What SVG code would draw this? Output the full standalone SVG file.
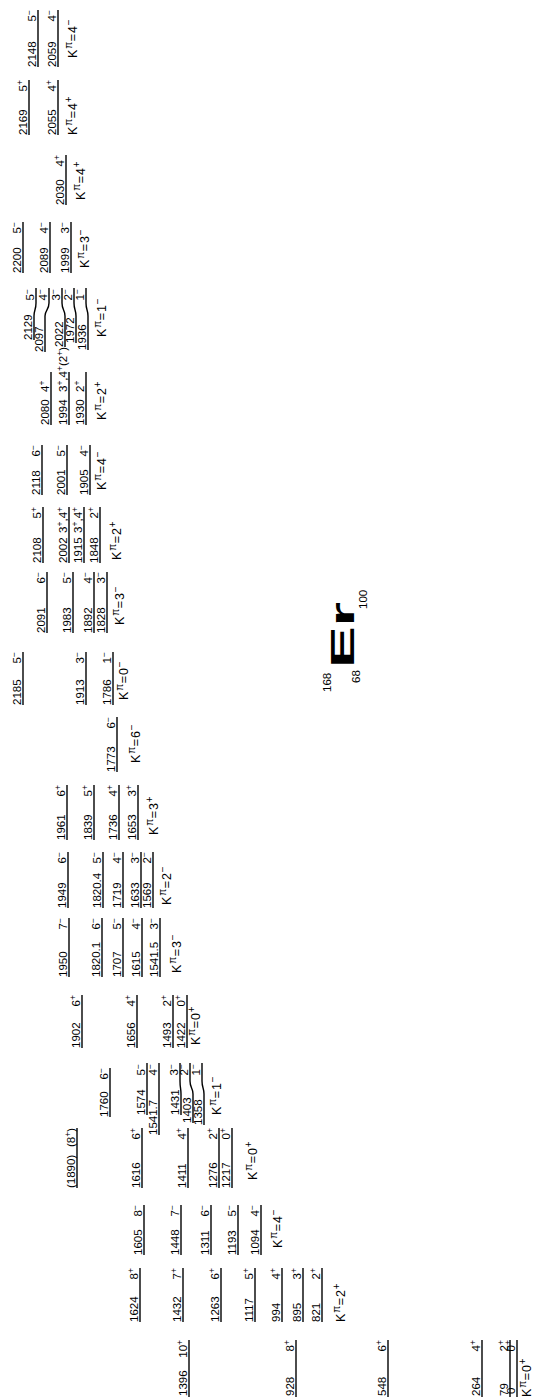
<svg xmlns="http://www.w3.org/2000/svg" width="534" height="1397" viewBox="0 0 534 1397">
<style>
text{font-family:"Liberation Sans",Arial,sans-serif;font-size:11.5px;fill:#000}
.r{text-anchor:end}
.u{font-size:8.5px}
.k{font-size:12.5px;letter-spacing:0.8px}
.k .u{font-size:10px}
.t{font-size:33px;font-weight:bold}
line,path{stroke:#000;stroke-width:1.4;fill:none}
</style>
<rect width="534" height="1397" fill="#fff"/>
<g transform="translate(0 1397) rotate(-90)">
<g id="connectors"></g>
<g id="b2059m">
<line x1="1330" y1="38" x2="1387" y2="38"/><text x="1330" y="35.5">2148</text><text class="r" x="1387" y="35.5">5<tspan class="u" dy="-4">−</tspan></text>
<line x1="1330" y1="58" x2="1387" y2="58"/><text x="1330" y="55.5">2059</text><text class="r" x="1387" y="55.5">4<tspan class="u" dy="-4">−</tspan></text>
<text class="k" x="1339" y="77">K<tspan class="u" dy="-5">π</tspan><tspan dy="5">=4</tspan><tspan class="u" dy="-5">−</tspan></text>
</g>
<g id="b2055p">
<line x1="1262" y1="29" x2="1317" y2="29"/><text x="1262" y="26.5">2169</text><text class="r" x="1317" y="26.5">5<tspan class="u" dy="-4">+</tspan></text>
<line x1="1262" y1="58" x2="1317" y2="58"/><text x="1262" y="55.5">2055</text><text class="r" x="1317" y="55.5">4<tspan class="u" dy="-4">+</tspan></text>
<text class="k" x="1262" y="77">K<tspan class="u" dy="-5">π</tspan><tspan dy="5">=4</tspan><tspan class="u" dy="-5">+</tspan></text>
</g>
<g id="b2030p">
<line x1="1192" y1="66" x2="1242" y2="66"/><text x="1192" y="63.5">2030</text><text class="r" x="1242" y="63.5">4<tspan class="u" dy="-4">+</tspan></text>
<text class="k" x="1197" y="85">K<tspan class="u" dy="-5">π</tspan><tspan dy="5">=4</tspan><tspan class="u" dy="-5">+</tspan></text>
</g>
<g id="b1999m">
<line x1="1124" y1="23" x2="1175" y2="23"/><text x="1124" y="20.5">2200</text><text class="r" x="1175" y="20.5">5<tspan class="u" dy="-4">−</tspan></text>
<line x1="1124" y1="50" x2="1175" y2="50"/><text x="1124" y="47.5">2089</text><text class="r" x="1175" y="47.5">4<tspan class="u" dy="-4">−</tspan></text>
<line x1="1124" y1="71" x2="1175" y2="71"/><text x="1124" y="68.5">1999</text><text class="r" x="1175" y="68.5">3<tspan class="u" dy="-4">−</tspan></text>
<text class="k" x="1129" y="89">K<tspan class="u" dy="-5">π</tspan><tspan dy="5">=3</tspan><tspan class="u" dy="-5">−</tspan></text>
</g>
<g id="b1936m">
<path d="M1057 34H1081C1087 34 1087 36 1094 36H1109"/><text x="1057" y="31.5">2129</text><text class="r" x="1108" y="33.5">5<tspan class="u" dy="-4">−</tspan></text>
<path d="M1045 45H1081C1087 45 1087 49 1094 49H1109"/><text x="1045" y="42.5">2097</text><text class="r" x="1108" y="46.5">4<tspan class="u" dy="-4">−</tspan></text>
<path d="M1050 65H1081C1087 65 1087 62 1094 62H1109"/><text x="1050" y="62.5">2022</text><text class="r" x="1108" y="59.5">3<tspan class="u" dy="-4">−</tspan></text>
<path d="M1054 76H1081C1087 76 1087 74 1094 74H1109"/><text x="1054" y="73.5">1972</text><text class="r" x="1108" y="71.5">2<tspan class="u" dy="-4">−</tspan></text>
<path d="M1047 88H1081C1087 88 1087 86 1094 86H1109"/><text x="1047" y="85.5">1936</text><text class="r" x="1108" y="83.5">1<tspan class="u" dy="-4">−</tspan></text>
<text class="k" x="1060" y="106">K<tspan class="u" dy="-5">π</tspan><tspan dy="5">=1</tspan><tspan class="u" dy="-5">−</tspan></text>
</g>
<g id="b1930p">
<line x1="972" y1="51" x2="1025" y2="51"/><text x="972" y="48.5">2080</text><text x="1005" y="48.5">4<tspan class="u" dy="-4">+</tspan></text>
<line x1="972" y1="69" x2="1025" y2="69"/><text x="972" y="66.5">1994</text><text x="1005" y="66.5">3<tspan class="u" dy="-4">+</tspan><tspan dy="4">,4</tspan><tspan class="u" dy="-4">+</tspan><tspan dy="4">(2</tspan><tspan class="u" dy="-4">+</tspan><tspan dy="4">)</tspan></text>
<line x1="972" y1="86" x2="1025" y2="86"/><text x="972" y="83.5">1930</text><text x="1005" y="83.5">2<tspan class="u" dy="-4">+</tspan></text>
<text class="k" x="977" y="106">K<tspan class="u" dy="-5">π</tspan><tspan dy="5">=2</tspan><tspan class="u" dy="-5">+</tspan></text>
</g>
<g id="b1905m">
<line x1="902" y1="42" x2="952" y2="42"/><text x="902" y="39.5">2118</text><text class="r" x="952" y="39.5">6<tspan class="u" dy="-4">−</tspan></text>
<line x1="902" y1="67" x2="952" y2="67"/><text x="902" y="64.5">2001</text><text class="r" x="952" y="64.5">5<tspan class="u" dy="-4">−</tspan></text>
<line x1="902" y1="90" x2="952" y2="90"/><text x="902" y="87.5">1905</text><text class="r" x="952" y="87.5">4<tspan class="u" dy="-4">−</tspan></text>
<text class="k" x="907" y="106">K<tspan class="u" dy="-5">π</tspan><tspan dy="5">=4</tspan><tspan class="u" dy="-5">−</tspan></text>
</g>
<g id="b1848p">
<line x1="834" y1="43" x2="890" y2="43"/><text x="834" y="40.5">2108</text><text class="r" x="890" y="40.5">5<tspan class="u" dy="-4">+</tspan></text>
<line x1="834" y1="69" x2="890" y2="69"/><text x="834" y="66.5">2002</text><text class="r" x="890" y="66.5">3<tspan class="u" dy="-4">+</tspan><tspan dy="4">,4</tspan><tspan class="u" dy="-4">+</tspan></text>
<line x1="834" y1="84" x2="890" y2="84"/><text x="834" y="81.5">1915</text><text class="r" x="890" y="81.5">3<tspan class="u" dy="-4">+</tspan><tspan dy="4">,4</tspan><tspan class="u" dy="-4">+</tspan></text>
<line x1="834" y1="100" x2="890" y2="100"/><text x="834" y="97.5">1848</text><text class="r" x="890" y="97.5">2<tspan class="u" dy="-4">+</tspan></text>
<text class="k" x="837" y="121">K<tspan class="u" dy="-5">π</tspan><tspan dy="5">=2</tspan><tspan class="u" dy="-5">+</tspan></text>
</g>
<g id="b1828m">
<line x1="764" y1="47" x2="825" y2="47"/><text x="764" y="44.5">2091</text><text class="r" x="825" y="44.5">6<tspan class="u" dy="-4">−</tspan></text>
<line x1="764" y1="73" x2="825" y2="73"/><text x="764" y="70.5">1983</text><text class="r" x="825" y="70.5">5<tspan class="u" dy="-4">−</tspan></text>
<line x1="764" y1="94" x2="825" y2="94"/><text x="764" y="91.5">1892</text><text class="r" x="825" y="91.5">4<tspan class="u" dy="-4">−</tspan></text>
<line x1="764" y1="107" x2="825" y2="107"/><text x="764" y="104.5">1828</text><text class="r" x="825" y="104.5">3<tspan class="u" dy="-4">−</tspan></text>
<text class="k" x="772" y="124">K<tspan class="u" dy="-5">π</tspan><tspan dy="5">=3</tspan><tspan class="u" dy="-5">−</tspan></text>
</g>
<g id="b1786m">
<line x1="692" y1="23" x2="745" y2="23"/><text x="692" y="20.5">2185</text><text class="r" x="745" y="20.5">5<tspan class="u" dy="-4">−</tspan></text>
<line x1="692" y1="86" x2="745" y2="86"/><text x="692" y="83.5">1913</text><text class="r" x="745" y="83.5">3<tspan class="u" dy="-4">−</tspan></text>
<line x1="692" y1="113" x2="745" y2="113"/><text x="692" y="110.5">1786</text><text class="r" x="745" y="110.5">1<tspan class="u" dy="-4">−</tspan></text>
<text class="k" x="697" y="128">K<tspan class="u" dy="-5">π</tspan><tspan dy="5">=0</tspan><tspan class="u" dy="-5">−</tspan></text>
</g>
<g id="b1773m">
<line x1="625" y1="117" x2="680" y2="117"/><text x="625" y="114.5">1773</text><text class="r" x="680" y="114.5">6<tspan class="u" dy="-4">−</tspan></text>
<text class="k" x="634" y="140">K<tspan class="u" dy="-5">π</tspan><tspan dy="5">=6</tspan><tspan class="u" dy="-5">−</tspan></text>
</g>
<g id="b1653p">
<line x1="557" y1="67" x2="612" y2="67"/><text x="557" y="64.5">1961</text><text class="r" x="612" y="64.5">6<tspan class="u" dy="-4">+</tspan></text>
<line x1="557" y1="94" x2="612" y2="94"/><text x="557" y="91.5">1839</text><text class="r" x="612" y="91.5">5<tspan class="u" dy="-4">+</tspan></text>
<line x1="557" y1="119" x2="612" y2="119"/><text x="557" y="116.5">1736</text><text class="r" x="612" y="116.5">4<tspan class="u" dy="-4">+</tspan></text>
<line x1="557" y1="138" x2="612" y2="138"/><text x="557" y="135.5">1653</text><text class="r" x="612" y="135.5">3<tspan class="u" dy="-4">+</tspan></text>
<text class="k" x="562" y="158">K<tspan class="u" dy="-5">π</tspan><tspan dy="5">=3</tspan><tspan class="u" dy="-5">+</tspan></text>
</g>
<g id="b1569m">
<line x1="489" y1="68" x2="545" y2="68"/><text x="489" y="65.5">1949</text><text class="r" x="545" y="65.5">6<tspan class="u" dy="-4">−</tspan></text>
<line x1="489" y1="103" x2="545" y2="103"/><text x="489" y="100.5">1820.4</text><text class="r" x="545" y="100.5">5<tspan class="u" dy="-4">−</tspan></text>
<line x1="489" y1="123" x2="545" y2="123"/><text x="489" y="120.5">1719</text><text class="r" x="545" y="120.5">4<tspan class="u" dy="-4">−</tspan></text>
<line x1="489" y1="141" x2="545" y2="141"/><text x="489" y="138.5">1633</text><text class="r" x="545" y="138.5">3<tspan class="u" dy="-4">−</tspan></text>
<line x1="489" y1="153" x2="545" y2="153"/><text x="489" y="150.5">1569</text><text class="r" x="545" y="150.5">2<tspan class="u" dy="-4">−</tspan></text>
<text class="k" x="492" y="171">K<tspan class="u" dy="-5">π</tspan><tspan dy="5">=2</tspan><tspan class="u" dy="-5">−</tspan></text>
</g>
<g id="b1541m">
<line x1="420" y1="69" x2="479" y2="69"/><text x="420" y="66.5">1950</text><text class="r" x="479" y="66.5">7<tspan class="u" dy="-4">−</tspan></text>
<line x1="420" y1="102" x2="479" y2="102"/><text x="420" y="99.5">1820.1</text><text class="r" x="479" y="99.5">6<tspan class="u" dy="-4">−</tspan></text>
<line x1="420" y1="123" x2="479" y2="123"/><text x="420" y="120.5">1707</text><text class="r" x="479" y="120.5">5<tspan class="u" dy="-4">−</tspan></text>
<line x1="420" y1="142" x2="479" y2="142"/><text x="420" y="139.5">1615</text><text class="r" x="479" y="139.5">4<tspan class="u" dy="-4">−</tspan></text>
<line x1="420" y1="160" x2="479" y2="160"/><text x="420" y="157.5">1541.5</text><text class="r" x="479" y="157.5">3<tspan class="u" dy="-4">−</tspan></text>
<text class="k" x="424" y="181">K<tspan class="u" dy="-5">π</tspan><tspan dy="5">=3</tspan><tspan class="u" dy="-5">−</tspan></text>
</g>
<g id="b1422p">
<line x1="349" y1="82" x2="402" y2="82"/><text x="349" y="79.5">1902</text><text class="r" x="402" y="79.5">6<tspan class="u" dy="-4">+</tspan></text>
<line x1="349" y1="137" x2="402" y2="137"/><text x="349" y="134.5">1656</text><text class="r" x="402" y="134.5">4<tspan class="u" dy="-4">+</tspan></text>
<line x1="349" y1="173" x2="402" y2="173"/><text x="349" y="170.5">1493</text><text class="r" x="402" y="170.5">2<tspan class="u" dy="-4">+</tspan></text>
<line x1="349" y1="187" x2="402" y2="187"/><text x="349" y="184.5">1422</text><text class="r" x="402" y="184.5">0<tspan class="u" dy="-4">+</tspan></text>
<text class="k" x="352" y="200">K<tspan class="u" dy="-5">π</tspan><tspan dy="5">=0</tspan><tspan class="u" dy="-5">+</tspan></text>
</g>
<g id="b1358m">
<line x1="280" y1="110" x2="329" y2="110"/><text x="280" y="107.5">1760</text><text class="r" x="329" y="107.5">6<tspan class="u" dy="-4">−</tspan></text>
<path d="M282 147H334"/><text x="282" y="144.5">1574</text><text class="r" x="333" y="144.5">5<tspan class="u" dy="-4">−</tspan></text>
<path d="M262 159H334"/><text x="262" y="156.5">1541.7</text><text class="r" x="333" y="156.5">4<tspan class="u" dy="-4">−</tspan></text>
<path d="M282 181H303C309 181 309 180 316 180H334"/><text x="282" y="178.5">1431</text><text class="r" x="333" y="177.5">3<tspan class="u" dy="-4">−</tspan></text>
<path d="M274 193H303C309 193 309 190 316 190H334"/><text x="274" y="190.5">1403</text><text class="r" x="333" y="187.5">2<tspan class="u" dy="-4">−</tspan></text>
<path d="M272 204H303C309 204 309 202 316 202H334"/><text x="272" y="201.5">1358</text><text class="r" x="333" y="199.5">1<tspan class="u" dy="-4">−</tspan></text>
<text class="k" x="282" y="221">K<tspan class="u" dy="-5">π</tspan><tspan dy="5">=1</tspan><tspan class="u" dy="-5">−</tspan></text>
</g>
<g id="b1217p">
<line x1="209" y1="77" x2="269" y2="77"/><text x="209" y="74.5">(1890)</text><text class="r" x="269" y="74.5">(8<tspan class="u" dy="-4">+</tspan><tspan dy="4">)</tspan></text>
<line x1="209" y1="142" x2="269" y2="142"/><text x="209" y="139.5">1616</text><text class="r" x="269" y="139.5">6<tspan class="u" dy="-4">+</tspan></text>
<line x1="209" y1="188" x2="269" y2="188"/><text x="209" y="185.5">1411</text><text class="r" x="269" y="185.5">4<tspan class="u" dy="-4">+</tspan></text>
<line x1="209" y1="219" x2="269" y2="219"/><text x="209" y="216.5">1276</text><text class="r" x="269" y="216.5">2<tspan class="u" dy="-4">+</tspan></text>
<line x1="209" y1="232" x2="269" y2="232"/><text x="209" y="229.5">1217</text><text class="r" x="269" y="229.5">0<tspan class="u" dy="-4">+</tspan></text>
<text class="k" x="217" y="257">K<tspan class="u" dy="-5">π</tspan><tspan dy="5">=0</tspan><tspan class="u" dy="-5">+</tspan></text>
</g>
<g id="b1094m">
<line x1="142" y1="144" x2="192" y2="144"/><text x="142" y="141.5">1605</text><text class="r" x="192" y="141.5">8<tspan class="u" dy="-4">−</tspan></text>
<line x1="142" y1="181" x2="192" y2="181"/><text x="142" y="178.5">1448</text><text class="r" x="192" y="178.5">7<tspan class="u" dy="-4">−</tspan></text>
<line x1="142" y1="211" x2="192" y2="211"/><text x="142" y="208.5">1311</text><text class="r" x="192" y="208.5">6<tspan class="u" dy="-4">−</tspan></text>
<line x1="142" y1="238" x2="192" y2="238"/><text x="142" y="235.5">1193</text><text class="r" x="192" y="235.5">5<tspan class="u" dy="-4">−</tspan></text>
<line x1="142" y1="261" x2="192" y2="261"/><text x="142" y="258.5">1094</text><text class="r" x="192" y="258.5">4<tspan class="u" dy="-4">−</tspan></text>
<text class="k" x="149" y="282">K<tspan class="u" dy="-5">π</tspan><tspan dy="5">=4</tspan><tspan class="u" dy="-5">−</tspan></text>
</g>
<g id="b821p">
<line x1="75" y1="140" x2="129" y2="140"/><text x="75" y="137.5">1624</text><text class="r" x="129" y="137.5">8<tspan class="u" dy="-4">+</tspan></text>
<line x1="75" y1="183" x2="129" y2="183"/><text x="75" y="180.5">1432</text><text class="r" x="129" y="180.5">7<tspan class="u" dy="-4">+</tspan></text>
<line x1="75" y1="221" x2="129" y2="221"/><text x="75" y="218.5">1263</text><text class="r" x="129" y="218.5">6<tspan class="u" dy="-4">+</tspan></text>
<line x1="75" y1="255" x2="129" y2="255"/><text x="75" y="252.5">1117</text><text class="r" x="129" y="252.5">5<tspan class="u" dy="-4">+</tspan></text>
<line x1="75" y1="282" x2="129" y2="282"/><text x="75" y="279.5">994</text><text class="r" x="129" y="279.5">4<tspan class="u" dy="-4">+</tspan></text>
<line x1="75" y1="303" x2="129" y2="303"/><text x="75" y="300.5">895</text><text class="r" x="129" y="300.5">3<tspan class="u" dy="-4">+</tspan></text>
<line x1="75" y1="322" x2="129" y2="322"/><text x="75" y="319.5">821</text><text class="r" x="129" y="319.5">2<tspan class="u" dy="-4">+</tspan></text>
<text class="k" x="75" y="345">K<tspan class="u" dy="-5">π</tspan><tspan dy="5">=2</tspan><tspan class="u" dy="-5">+</tspan></text>
</g>
<g id="b0p">
<line x1="0" y1="189" x2="57" y2="189"/><text x="1" y="186.5">1396</text><text class="r" x="57" y="186.5">10<tspan class="u" dy="-4">+</tspan></text>
<line x1="0" y1="296" x2="57" y2="296"/><text x="1" y="293.5">928</text><text class="r" x="57" y="293.5">8<tspan class="u" dy="-4">+</tspan></text>
<line x1="0" y1="388" x2="57" y2="388"/><text x="1" y="385.5">548</text><text class="r" x="57" y="385.5">6<tspan class="u" dy="-4">+</tspan></text>
<line x1="0" y1="482" x2="57" y2="482"/><text x="1" y="479.5">264</text><text class="r" x="57" y="479.5">4<tspan class="u" dy="-4">+</tspan></text>
<line x1="0" y1="510" x2="57" y2="510"/><text x="1" y="507.5">79</text><text class="r" x="57" y="507.5">2<tspan class="u" dy="-4">+</tspan></text>
<line x1="0" y1="517" x2="57" y2="517"/><text x="3" y="514.5">0</text><text class="r" x="57" y="514.5">0<tspan class="u" dy="-4">+</tspan></text>
<text class="k" x="0" y="531">K<tspan class="u" dy="-5">π</tspan><tspan dy="5">=0</tspan><tspan class="u" dy="-5">+</tspan></text>
</g>
<g id="title">
<text x="705" y="331">168</text>
<text x="714" y="360">68</text>
<text class="t" x="729" y="354" textLength="66" lengthAdjust="spacingAndGlyphs">Er</text>
<text x="788" y="367">100</text>
</g>
</g>
</svg>
